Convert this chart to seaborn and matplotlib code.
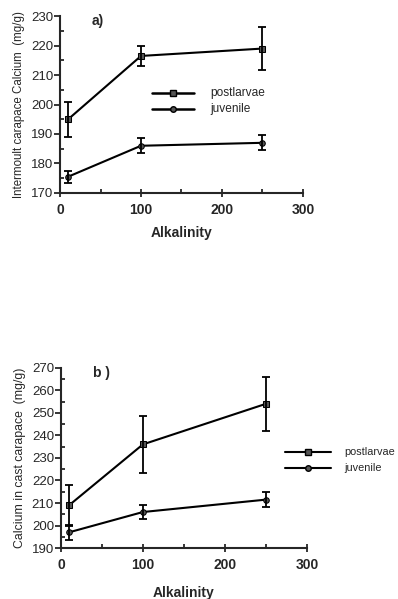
import numpy as np
import matplotlib
matplotlib.use("Agg")
import matplotlib.pyplot as plt
import seaborn as sns
import pandas as pd
from matplotlib.ticker import MultipleLocator

### data
alkalinity = [10, 100, 250]
groups = ["postlarvae", "juvenile"]

# panel a) intermoult carapace calcium
a_post = [195.0, 216.5, 219.0]
a_post_err = [6.0, 3.3, 7.3]
a_juv = [175.5, 186.0, 187.0]
a_juv_err = [2.0, 2.5, 2.6]

# panel b) calcium in cast carapace
b_post = [209.0, 236.0, 254.0]
b_post_err = [9.0, 12.8, 12.0]
b_juv = [197.0, 206.0, 211.5]
b_juv_err = [3.2, 3.3, 3.2]

sns.set_style("ticks")
plt.rcParams['font.family'] = ['Liberation Sans', 'DejaVu Sans']

def make_df(post, juv):
    return pd.DataFrame({
        "Alkalinity": alkalinity * 2,
        "value": post + juv,
        "group": [groups[0]] * 3 + [groups[1]] * 3,
    })

fig = plt.figure(figsize=(3.98, 5.99), dpi=100)
ax1 = fig.add_axes([0.151, 0.678, 0.61, 0.295])
ax2 = fig.add_axes([0.153, 0.085, 0.618, 0.301])

def draw(ax, post, post_err, juv, juv_err, ylim, ystep, ylabel, ylab_fs, tag):
    df = make_df(post, juv)
    sns.lineplot(data=df, x="Alkalinity", y="value", hue="group", style="group",
                 markers={"postlarvae": "s", "juvenile": "o"}, dashes=False,
                 palette={"postlarvae": "black", "juvenile": "black"},
                 markersize=4, linewidth=1.5, ax=ax, legend=False,
                 markerfacecolor="#555555", markeredgecolor="black")
    ax.errorbar(alkalinity, post, yerr=post_err, fmt="none", ecolor="black",
                elinewidth=1.3, capsize=3, capthick=1.3)
    ax.errorbar(alkalinity, juv, yerr=juv_err, fmt="none", ecolor="black",
                elinewidth=1.3, capsize=3, capthick=1.3)
    ax.set_xlim(0, 300)
    ax.set_ylim(*ylim)
    ax.set_xticks([0, 100, 200, 300])
    ax.xaxis.set_minor_locator(MultipleLocator(50))
    ax.yaxis.set_major_locator(MultipleLocator(ystep))
    ax.yaxis.set_minor_locator(MultipleLocator(ystep / 2))
    ax.tick_params(axis="x", which="major", direction="inout", length=6, width=1.3,
                   labelsize=10, pad=4)
    ax.tick_params(axis="x", which="minor", direction="in", length=3, width=1.3)
    ax.tick_params(axis="y", which="major", direction="out", length=4, width=1.3,
                   labelsize=9.5, pad=1)
    ax.tick_params(axis="y", which="minor", direction="in", length=3, width=1.3)
    for lbl in ax.get_xticklabels():
        lbl.set_fontweight("bold")
    for s in ["left", "bottom"]:
        ax.spines[s].set_linewidth(1.5)
    sns.despine(ax=ax)
    ax.set_ylabel(ylabel, fontsize=ylab_fs, labelpad=4)
    ax.set_xlabel("")
    ax.text(0.13, 0.97, tag, transform=ax.transAxes, fontsize=10, fontweight="bold",
            va="center", ha="left")

draw(ax1, a_post, a_post_err, a_juv, a_juv_err, (170, 230), 10,
     "Intermoult carapace Calcium  (mg/g)", 8.3, "a)")
draw(ax2, b_post, b_post_err, b_juv, b_juv_err, (190, 270), 10,
     "Calcium in cast carapace  (mg/g)", 8.8, "b )")

fig.text(0.455, 1 - 233 / 599, "Alkalinity", fontsize=10, fontweight="bold",
         ha="center", va="center")
fig.text(0.46, 1 - 593 / 599, "Alkalinity", fontsize=10, fontweight="bold",
         ha="center", va="center")

# legends drawn as line samples with text
def legend_rows(x0, x1, xt, ys, lw, fs):
    for y, name, mk in zip(ys, groups, ["s", "o"]):
        yy = 1 - y / 599
        fig.add_artist(plt.Line2D([x0 / 398, x1 / 398], [yy, yy], color="black", lw=lw))
        fig.add_artist(plt.Line2D([(x0 + x1) / 2 / 398], [yy], marker=mk, markersize=4,
                                  color="black", markerfacecolor="#555555"))
        fig.text(xt / 398, yy, name, fontsize=fs, va="center", ha="left")

legend_rows(152, 194, 210, [93, 109], 1.8, 8.6)
legend_rows(285, 331, 344, [452, 468], 1.5, 7.8)

plt.savefig("out.png", dpi=100)
